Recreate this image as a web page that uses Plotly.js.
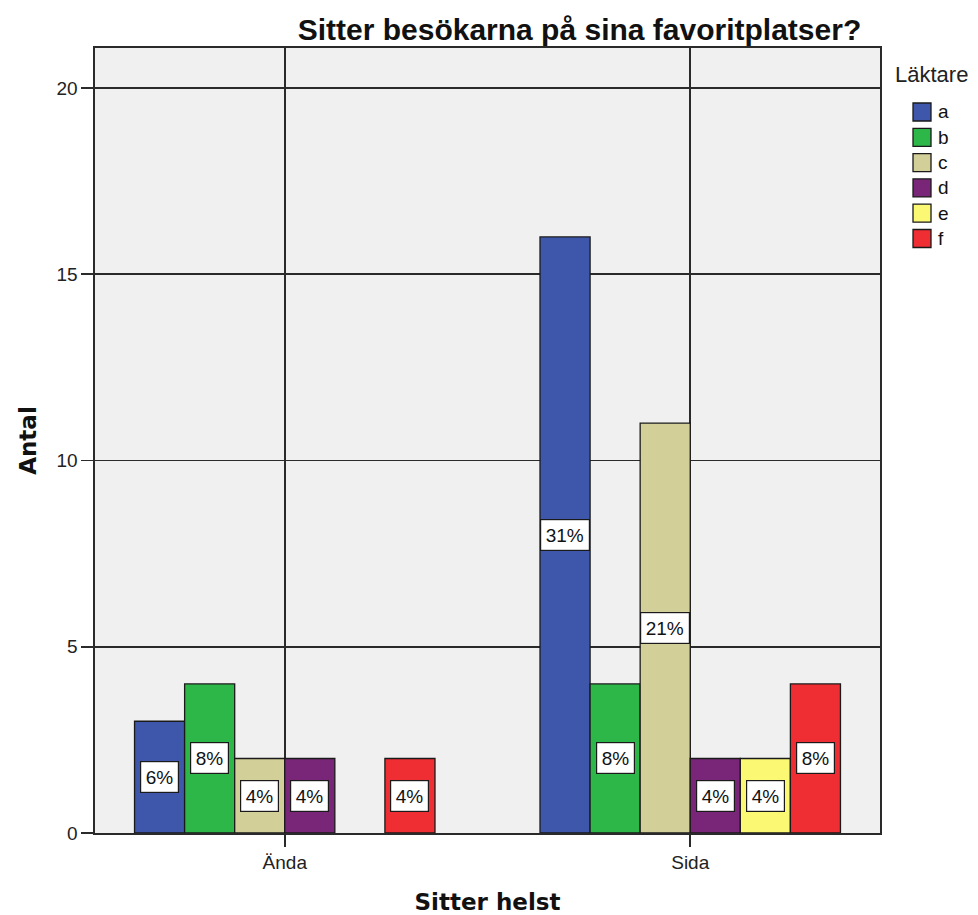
<!DOCTYPE html>
<html>
<head>
<meta charset="utf-8">
<script src="https://cdn.plot.ly/plotly-3.0.1.min.js"></script>
<style>html,body{margin:0;padding:0;background:#fff;}#chart{width:978px;height:915px;}</style>
</head>
<body>
<div id="chart"></div>
<script>
// Data
var categories = ["Ända", "Sida"];
var seriesNames = ["a", "b", "c", "d", "e", "f"];
var valuesA = [3, 16];
var valuesB = [4, 4];
var valuesC = [2, 11];
var valuesD = [2, 2];
var valuesE = [null, 2];
var valuesF = [2, 4];
var labelsA = ["6%", "31%"];
var labelsB = ["8%", "8%"];
var labelsC = ["4%", "21%"];
var labelsD = ["4%", "4%"];
var labelsE = [null, "4%"];
var labelsF = ["4%", "8%"];
var yTicks = [0, 5, 10, 15, 20];

var allValues = [valuesA, valuesB, valuesC, valuesD, valuesE, valuesF];
var allLabels = [labelsA, labelsB, labelsC, labelsD, labelsE, labelsF];
var colors = ["#3e57ab", "#2db748", "#d3cf98", "#7a2678", "#fbf874", "#ee2e33"];

var FONT = "Liberation Sans, Arial, sans-serif";
var bargap = 0.259;
var n = seriesNames.length;
var slot = (1 - bargap) / n;

// plot area geometry (pixels) for the hand-built legend
var M = {l: 95, r: 98, t: 48, b: 82};
var W = 978, H = 915;
var pw = W - M.l - M.r, ph = H - M.t - M.b;
function px2x(px) { return (px - M.l) / pw; }
function py2y(py) { return (H - M.b - py) / ph; }

var traces = [];
var annotations = [];
var shapes = [];
for (var i = 0; i < n; i++) {
  traces.push({
    type: "bar",
    name: seriesNames[i],
    x: categories,
    y: allValues[i],
    marker: {color: colors[i], line: {color: "#1a1a1a", width: 1.3}},
    hoverinfo: "none",
    showlegend: false
  });
  for (var j = 0; j < categories.length; j++) {
    var v = allValues[i][j];
    if (v === null) continue;
    annotations.push({
      x: j + (i - (n - 1) / 2) * slot,
      y: v / 2,
      xref: "x", yref: "y",
      text: allLabels[i][j],
      showarrow: false,
      bgcolor: "#ffffff",
      bordercolor: "#1a1a1a",
      borderwidth: 1.2,
      borderpad: 4.5,
      font: {family: FONT, size: 19, color: "#111"}
    });
  }
  // legend entry
  var cy = 112 + i * 25.3;
  shapes.push({
    type: "rect", xref: "paper", yref: "paper",
    x0: px2x(913), x1: px2x(931), y0: py2y(cy + 9), y1: py2y(cy - 9),
    fillcolor: colors[i], line: {color: "#1a1a1a", width: 1.3}
  });
  annotations.push({
    xref: "paper", yref: "paper",
    x: px2x(936), y: py2y(cy),
    xanchor: "left", yanchor: "middle",
    text: seriesNames[i], showarrow: false,
    font: {family: FONT, size: 19, color: "#111"}
  });
}

annotations.push({
  xref: "paper", yref: "paper",
  x: px2x(893), y: py2y(74),
  xanchor: "left", yanchor: "middle",
  text: "Läktare",
  showarrow: false,
  font: {family: FONT, size: 22, color: "#222"}
});

var layout = {
  width: W, height: H,
  margin: M,
  paper_bgcolor: "#ffffff",
  plot_bgcolor: "#f0f0f0",
  barmode: "group",
  bargap: bargap,
  bargroupgap: 0,
  showlegend: false,
  title: {
    text: "<b>Sitter besökarna på sina favoritplatser?</b>",
    x: 0.5925, xanchor: "center", xref: "container",
    y: 0.968, yanchor: "middle", yref: "container",
    font: {family: FONT, size: 30, color: "#111"}
  },
  xaxis: {
    type: "category",
    range: [-0.468, 1.468],
    showgrid: true, gridcolor: "#2a2a2a", gridwidth: 1.6,
    showline: true, linecolor: "#2a2a2a", linewidth: 1.6, mirror: true,
    ticks: "outside", ticklen: 12, tickcolor: "#2a2a2a", tickwidth: 1.6,
    tickfont: {family: FONT, size: 19, color: "#222"},
    title: {text: "<b>Sitter helst</b>", standoff: 23,
      font: {family: "DejaVu Sans, Verdana, sans-serif", size: 23, color: "#111"}},
    zeroline: false, fixedrange: true
  },
  yaxis: {
    range: [0, 21.07],
    tickvals: yTicks,
    showgrid: true, gridcolor: "#2a2a2a", gridwidth: 1.6,
    showline: true, linecolor: "#2a2a2a", linewidth: 1.6, mirror: true,
    ticks: "outside", ticklen: 12, tickcolor: "#2a2a2a", tickwidth: 1.6,
    tickfont: {family: FONT, size: 19, color: "#222"},
    title: {text: "<b>Antal</b>", standoff: 13,
      font: {family: "DejaVu Sans, Verdana, sans-serif", size: 23, color: "#111"}},
    zeroline: false, fixedrange: true
  },
  shapes: shapes,
  annotations: annotations
};

Plotly.newPlot("chart", traces, layout, {displayModeBar: false, staticPlot: true});
</script>
</body>
</html>
